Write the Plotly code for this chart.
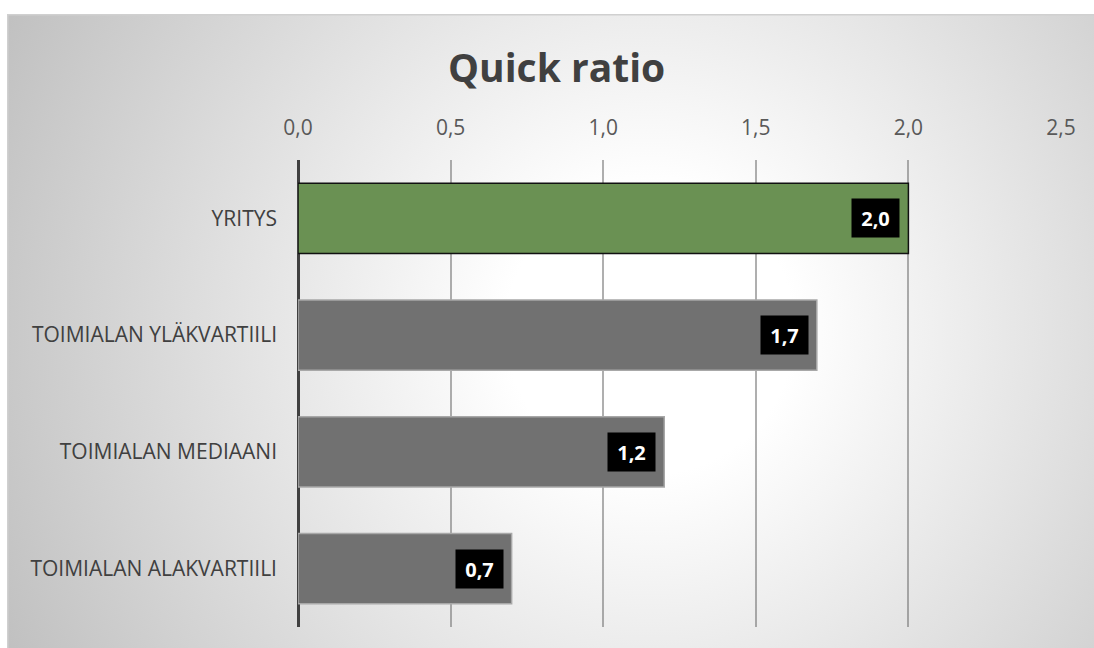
import base64
import plotly.graph_objects as go

# ---- data ----
categories = ["YRITYS", "TOIMIALAN YLÄKVARTIILI", "TOIMIALAN MEDIAANI", "TOIMIALAN ALAKVARTIILI"]
values = [2.0, 1.7, 1.2, 0.7]
value_labels = ["2,0", "1,7", "1,2", "0,7"]
tick_vals = [0.0, 0.5, 1.0, 1.5, 2.0, 2.5]
tick_text = ["0,0", "0,5", "1,0", "1,5", "2,0", "2,5"]
title_text = "Quick ratio"

bar_colors = ["#6a9153", "#717171", "#717171", "#717171"]
bar_line_colors = ["#111111", "#a8a8a8", "#a8a8a8", "#a8a8a8"]

W, H = 1094, 648
L, R, T, B = 298, 33, 160, 21
pw, ph = W - L - R, H - T - B

# background gradient frame (chart area) as svg
fx0, fy0 = 7, 14
fw, fh = W - fx0 + 20, H - fy0 + 20
svg = f'''<svg xmlns="http://www.w3.org/2000/svg" width="{fw}" height="{fh}" viewBox="0 0 {fw} {fh}" preserveAspectRatio="none">
<defs><radialGradient id="g" gradientUnits="userSpaceOnUse" cx="{650-fx0}" cy="{330-fy0}" r="720">
<stop offset="0" stop-color="#ffffff"/><stop offset="0.2" stop-color="#ffffff"/><stop offset="1" stop-color="#c0c0c0"/>
</radialGradient></defs>
<rect x="0" y="0" width="{fw}" height="{fh}" fill="url(#g)"/>
<line x1="0.75" y1="0" x2="0.75" y2="{fh}" stroke="#d0d0d0" stroke-width="1.5"/>
<line x1="0" y1="0.75" x2="{fw}" y2="0.75" stroke="#d0d0d0" stroke-width="1.5"/>
</svg>'''
src = "data:image/svg+xml;base64," + base64.b64encode(svg.encode()).decode()

fig = go.Figure()
fig.add_trace(go.Bar(
    x=values, y=categories, orientation="h",
    marker=dict(color=bar_colors, line=dict(color=bar_line_colors, width=1.5)),
    width=0.6, hoverinfo="skip",
))

annotations = []
for c, v, lab in zip(categories, values, value_labels):
    annotations.append(dict(
        x=v, y=c, xref="x", yref="y", text=f"<b>{lab}</b>", showarrow=False,
        xanchor="right", yanchor="middle", xshift=-8,
        bgcolor="#000000", borderpad=6, width=35, height=26,
        font=dict(family="Open Sans", size=20, color="#ffffff"),
    ))
annotations.append(dict(
    x=(556 - L) / pw, y=1 + (T - 66) / ph, xref="paper", yref="paper",
    text=f"<b>{title_text}</b>", showarrow=False, xanchor="center", yanchor="middle",
    font=dict(family="Open Sans", size=39, color="#404040"),
))

fig.update_layout(
    width=W, height=H,
    margin=dict(l=L, r=R, t=T, b=B, pad=0),
    paper_bgcolor="#ffffff", plot_bgcolor="rgba(0,0,0,0)",
    showlegend=False,
    annotations=annotations,
    images=[dict(
        source=src, xref="paper", yref="paper",
        x=(fx0 - L) / pw, y=1 + (T - fy0) / ph,
        sizex=fw / pw, sizey=fh / ph, sizing="stretch",
        xanchor="left", yanchor="top", layer="below",
    )],
    xaxis=dict(
        side="top", range=[0, 2.5], tickvals=tick_vals, ticktext=tick_text,
        showgrid=True, gridcolor="rgba(110,110,110,0.55)", gridwidth=1.5,
        zeroline=True, zerolinecolor="#404040", zerolinewidth=3,
        showline=False, ticks="", ticklabelstandoff=20,
        tickfont=dict(family="Open Sans", size=21, color="#595959"),
        layer="above traces", fixedrange=True,
    ),
    yaxis=dict(
        categoryorder="array", categoryarray=categories, range=[3.5, -0.5],
        showgrid=False, zeroline=False, showline=False, ticks="",
        ticklabelstandoff=20,
        tickfont=dict(family="Open Sans", size=21, color="#404040"),
        fixedrange=True,
    ),
)

fig.write_html("out.html")
